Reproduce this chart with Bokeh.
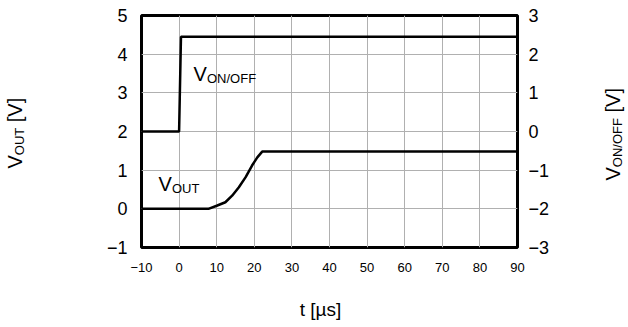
from bokeh.plotting import figure
from bokeh.models import Range1d, LinearAxis, FixedTicker, Label
from bokeh.embed import file_html
from bokeh.resources import INLINE
import math

# ---- data ----
t_out = [-10, 0, 7.8, 10, 12.3, 14.1, 15.9, 17.7, 19.4, 20.8, 22.1, 90]
v_out = [0, 0, 0, 0.08, 0.17, 0.34, 0.56, 0.82, 1.12, 1.33, 1.48, 1.48]
t_onoff = [-10, 0, 0.5, 90]
v_onoff = [0, 0, 2.45, 2.45]
x_ticks = [-10, 0, 10, 20, 30, 40, 50, 60, 70, 80, 90]
left_ticks = [-1, 0, 1, 2, 3, 4, 5]
right_ticks = [-3, -2, -1, 0, 1, 2, 3]

FONT = "Liberation Sans"
W, H = 626, 325
BL, BT = 141, 15
BR, BB = W - 517, H - 247

p = figure(width=W, height=H, output_backend="svg", toolbar_location=None,
           x_range=Range1d(-10, 90), y_range=Range1d(-1, 5),
           min_border_left=BL, min_border_right=BR, min_border_top=BT,
           min_border_bottom=BB, y_axis_location=None, x_axis_location=None)
p.extra_y_ranges = {"right": Range1d(-3, 3)}
p.outline_line_color = "black"
p.outline_line_width = 3
p.background_fill_color = "white"
p.border_fill_color = "white"

def minus(v):
    return ("\u2212" + str(abs(v))) if v < 0 else str(v)

xa = LinearAxis(ticker=FixedTicker(ticks=x_ticks))
xa.major_label_overrides = {v: minus(v) for v in x_ticks}
la = LinearAxis(ticker=FixedTicker(ticks=left_ticks))
la.major_label_overrides = {v: minus(v) for v in left_ticks}
ra = LinearAxis(y_range_name="right", ticker=FixedTicker(ticks=right_ticks))
ra.major_label_overrides = {v: minus(v) for v in right_ticks}
for ax, fs, so in ((xa, "13px", 15), (la, "18px", 14), (ra, "18px", 11)):
    ax.axis_line_color = None
    ax.major_tick_line_color = None
    ax.minor_tick_line_color = None
    ax.major_tick_out = 0
    ax.major_tick_in = 0
    ax.major_label_text_font = FONT
    ax.major_label_text_font_size = fs
    ax.major_label_text_color = "black"
    ax.major_label_standoff = so
p.add_layout(xa, "below")
p.add_layout(la, "left")
p.add_layout(ra, "right")

p.xgrid.ticker = FixedTicker(ticks=x_ticks)
p.ygrid.ticker = FixedTicker(ticks=left_ticks)
for g in (p.xgrid, p.ygrid):
    g.grid_line_color = "#b0b0b0"
    g.grid_line_width = 1

p.line(t_out, v_out, line_color="black", line_width=2.5)
p.line(t_onoff, v_onoff, y_range_name="right", line_color="black", line_width=2.5)

MID = 0.3465  # baseline -> middle of text box, in em

def lab(px, base, txt, size, rotated=False, align="left", place="center"):
    """px/base: along-text start and baseline position in canvas pixels."""
    off = MID * size
    if rotated:
        x, y, ang = base - off, px, math.pi / 2
    else:
        x, y, ang = px, base - off, 0.0
    l = Label(x=x, y=y, x_units="canvas", y_units="canvas",
              text=txt, text_font=FONT,
              text_font_size=f"{size}px", text_color="black",
              text_align=align, text_baseline="middle", angle=ang)
    p.add_layout(l, place)

# in-plot labels
lab(193, 80, "V", 20)
lab(206.5, 82.5, "ON/OFF", 13)
lab(158, 190, "V", 20)
lab(171.5, 192.5, "OUT", 13)

# left axis title (rotated, reads bottom to top)
lab(168, 21, "V", 20, True, place="left")
lab(154.7, 23.5, "OUT", 13, True, place="left")
lab(121.7, 21, "[V]", 20, True, place="left")

# right axis title (rotated)
lab(180, 619.5, "V", 20, True, place="right")
lab(166.7, 622, "ON/OFF", 13, True, place="right")
lab(112, 619.5, "[V]", 20, True, place="right")

# x axis title
lab(320, 316, "t [\u00b5s]", 19, False, "center", place="below")

open("out.html", "w").write(file_html(p, INLINE))
